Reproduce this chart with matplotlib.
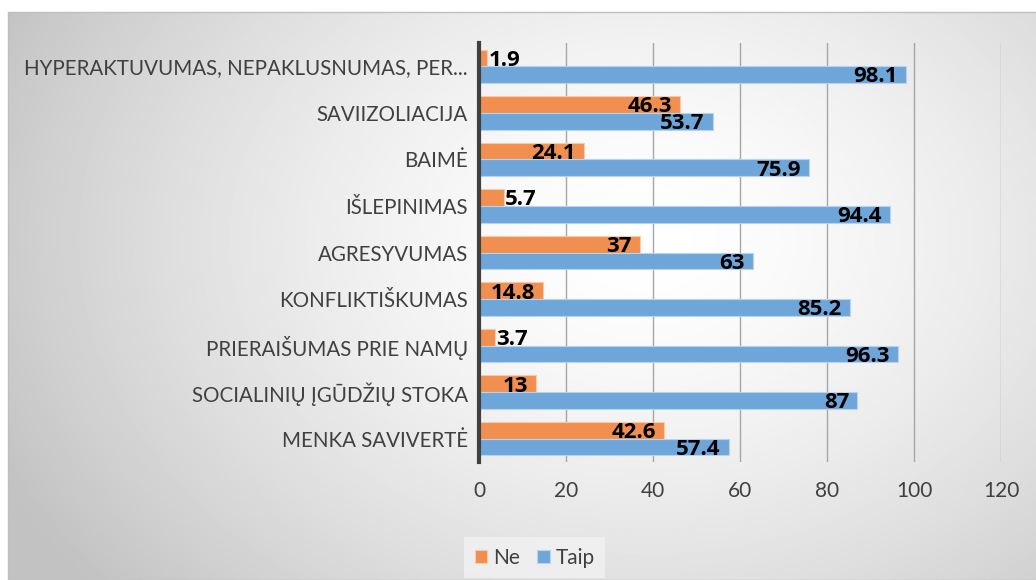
import matplotlib.pyplot as plt
import numpy as np

categories = ["MENKA SAVIVERTĖ", "SOCIALINIŲ ĮGŪDŽIŲ STOKA", "PRIERAIŠUMAS PRIE NAMŲ",
              "KONFLIKTIŠKUMAS", "AGRESYVUMAS", "IŠLEPINIMAS", "BAIMĖ",
              "SAVIIZOLIACIJA", "HYPERAKTUVUMAS, NEPAKLUSNUMAS, PER..."]
ne = [42.6, 13, 3.7, 14.8, 37, 5.7, 24.1, 46.3, 1.9]
taip = [57.4, 87, 96.3, 85.2, 63, 94.4, 75.9, 53.7, 98.1]

orange = "#F08F4F"
blue = "#6FA6DA"
plt.rcParams['font.family'] = ['Lato', 'DejaVu Sans']

fig = plt.figure(figsize=(10.36, 5.8), dpi=100)

# radial gradient background
bg = fig.add_axes([8 / 1036, 0, 1 - 8 / 1036, 1 - 12 / 580], zorder=0)
yy, xx = np.mgrid[0:1:300j, 0:1:500j]
r = np.sqrt(((xx - 0.62) / 0.62) ** 2 + ((yy - 0.6) / 0.85) ** 2)
shade = np.clip(1.0 - 0.2 * r ** 1.5, 0.76, 1.0)
bg.imshow(shade, cmap="gray", vmin=0, vmax=1, aspect="auto", origin="lower",
          extent=[0, 1, 0, 1])
bg.set_axis_off()
fig.patches.append(plt.Rectangle((8 / 1036, 0), 1, 1 - 12 / 580, transform=fig.transFigure,
                                 fill=False, edgecolor="#BFBFBF", linewidth=1, zorder=1))

ax = fig.add_axes([479 / 1036, 1 - 462 / 580, (1001 - 479) / 1036, (462 - 43) / 580], zorder=2)
ax.patch.set_alpha(0)

y = np.arange(len(categories))
h = 0.36
b1 = ax.barh(y + h / 2, ne, height=h, color=orange, edgecolor="#F9C9A8", linewidth=0.8, label="Ne", zorder=3)
b2 = ax.barh(y - h / 2, taip, height=h, color=blue, edgecolor="#B9D3EE", linewidth=0.8, label="Taip", zorder=3)

for bars, vals in ((b1, ne), (b2, taip)):
    for bar, v in zip(bars, vals):
        cy = bar.get_y() + bar.get_height() / 2 - 0.05
        txt = "%g" % v
        if v < 10:
            ax.text(v + 0.3, cy, txt, ha="left", va="center", fontsize=16, fontweight="bold",
                    family="Open Sans", zorder=4)
        else:
            ax.text(v - 1.8, cy, txt, ha="right", va="center", fontsize=16, fontweight="bold",
                    family="Open Sans", zorder=4)

ax.set_xlim(0, 120)
ax.set_ylim(-0.5, len(categories) - 0.5)
ax.set_xticks(range(0, 121, 20))
ax.set_yticks(y)
ax.set_yticklabels(categories, fontsize=14.8, color="#404040")
ax.tick_params(axis="x", labelsize=15, labelcolor="#404040", length=0, pad=14)
ax.tick_params(axis="y", length=0, pad=8)
ax.grid(axis="x", color="#A6A6A6", linewidth=1, zorder=0)
for s in ("top", "right", "bottom"):
    ax.spines[s].set_visible(False)
ax.spines["left"].set_color("#404040")
ax.spines["left"].set_linewidth(3)
ax.spines["left"].set_zorder(5)

leg = ax.legend(loc="upper left", bbox_to_anchor=(454 / 1036, 1 - 527 / 580),
                bbox_transform=fig.transFigure, ncol=2, frameon=True, fontsize=15,
                handlelength=0.6, handleheight=0.6, handletextpad=0.3, columnspacing=0.8,
                borderpad=0.5, fancybox=False)
leg.get_frame().set_facecolor("#F2F2F2")
leg.get_frame().set_edgecolor("none")
for t in leg.get_texts():
    t.set_color("#404040")

fig.savefig("out.png", dpi=100)
